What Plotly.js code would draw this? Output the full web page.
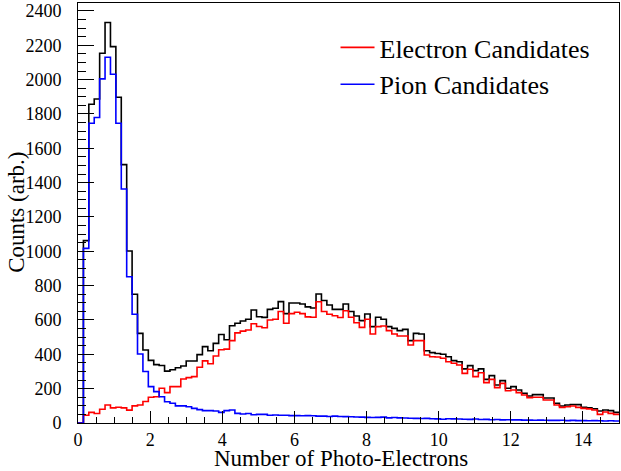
<!DOCTYPE html>
<html><head><meta charset="utf-8">
<script src="https://cdn.plot.ly/plotly-3.0.1.min.js"></script>
<style>html,body{margin:0;padding:0;background:#fff}</style>
</head><body><div id="chart" style="width:621px;height:471px"></div>
<script>
// Histogram binning (100 bins from 0 to 15)
const xMin = 0, xMax = 15, binWidth = 0.15;

// Black: all candidates
const allCounts = [
  0,1062,1856,1887,2153,2332,2192,1897,1505,1002,
  750,522,425,365,340,335,302,310,322,332,
  361,361,398,445,421,464,515,485,566,581,
  594,604,658,619,615,662,668,707,637,699,
  699,693,676,670,751,713,687,662,662,693,
  649,623,596,635,561,616,604,561,551,538,
  545,480,522,518,421,410,405,400,386,363,
  357,315,334,305,315,254,276,221,247,202,
  212,192,173,157,165,165,146,146,115,99,
  105,108,107,91,89,83,70,76,72,62
];
// Red: electron candidates
const electronCounts = [
  0,45,62,55,80,105,88,92,88,75,
  100,105,125,150,153,202,177,212,212,256,
  264,270,325,362,345,390,427,430,480,525,
  535,542,578,562,555,600,604,649,581,637,
  645,637,618,616,706,649,633,625,614,654,
  616,584,557,604,518,561,565,538,518,507,
  507,454,480,480,396,386,384,377,357,348,
  338,289,313,270,293,235,254,206,231,188,
  192,177,163,148,150,150,134,134,105,91,
  95,99,91,85,82,76,50,64,56,50
];
// Blue: pion candidates
const pionCounts = [
  0,1017,1746,1779,2004,2130,2031,1746,1363,852,
  633,402,300,212,183,153,124,115,100,100,
  95,85,78,72,72,70,62,72,76,56,
  52,55,48,50,50,45,47,45,45,43,
  43,42,43,42,40,40,38,40,38,37,
  36,35,34,33,32,33,34,30,32,30,
  29,28,27,26,27,25,24,22,25,24,
  23,22,21,23,20,21,19,20,18,19,
  18,18,17,17,16,17,16,15,15,16,
  14,15,14,14,13,14,13,12,13,12
];
const seriesNames = ["Electron Candidates", "Pion Candidates"];
const xTitle = "Number of Photo-Electrons";
const yTitle = "Counts (arb.)";
const yMax = 2446;

function edges(n) {
  const xs = [];
  for (let i = 0; i < n; i++) xs.push(xMin + i * binWidth);
  xs.push(xMax);
  return xs;
}
function steps(v) { return v.concat([v[v.length - 1]]); }

const serif = "Liberation Serif";
const mk = (y, color, name, show) => ({
  type: "scatter", mode: "lines",
  x: edges(y.length), y: steps(y),
  line: { shape: "hv", color: color, width: 1.6 },
  name: name, showlegend: show, hoverinfo: "skip"
});

const data = [
  mk(allCounts, "#000000", "All", false),
  mk(electronCounts, "#ff0000", seriesNames[0], true),
  mk(pionCounts, "#0000ff", seriesNames[1], true)
];

const layout = {
  width: 621, height: 471,
  margin: { l: 78, r: 2, t: 3, b: 48, pad: 0 },
  paper_bgcolor: "#ffffff", plot_bgcolor: "#ffffff",
  font: { family: serif, size: 18, color: "#000" },
  showlegend: true,
  legend: {
    x: 0.476, y: 0.95, xanchor: "left", yanchor: "top",
    bgcolor: "rgba(0,0,0,0)", borderwidth: 0,
    font: { family: serif, size: 26, color: "#000" },
    itemwidth: 34, tracegroupgap: 0
  },
  xaxis: {
    range: [xMin, xMax], dtick: 2, tick0: 0,
    ticks: "inside", ticklen: 12, tickwidth: 1, tickcolor: "#000",
    minor: { dtick: 0.5, ticks: "inside", ticklen: 6, tickwidth: 1, tickcolor: "#000" },
    showline: true, linecolor: "#000", linewidth: 1, mirror: true,
    showgrid: false, zeroline: false,
    tickfont: { family: serif, size: 18 }
  },
  yaxis: {
    range: [0, yMax], dtick: 200, tick0: 0, tickformat: "d",
    ticks: "inside", ticklen: 16, tickwidth: 1, tickcolor: "#000",
    minor: { dtick: 50, ticks: "inside", ticklen: 8, tickwidth: 1, tickcolor: "#000" },
    showline: true, linecolor: "#000", linewidth: 1, mirror: true,
    showgrid: false, zeroline: false,
    tickfont: { family: serif, size: 18 },
    ticklabelstandoff: 12
  },
  annotations: [
    { text: xTitle, xref: "paper", yref: "paper", x: 0.487, y: -0.0845,
      xanchor: "center", yanchor: "middle", showarrow: false,
      font: { family: serif, size: 23, color: "#000" } },
    { text: yTitle, xref: "paper", yref: "paper", x: -0.113, y: 0.5024,
      xanchor: "center", yanchor: "middle", showarrow: false, textangle: -90,
      font: { family: serif, size: 23, color: "#000" } }
  ]
};

Plotly.newPlot("chart", data, layout, { displayModeBar: false, staticPlot: true });
</script></body></html>
